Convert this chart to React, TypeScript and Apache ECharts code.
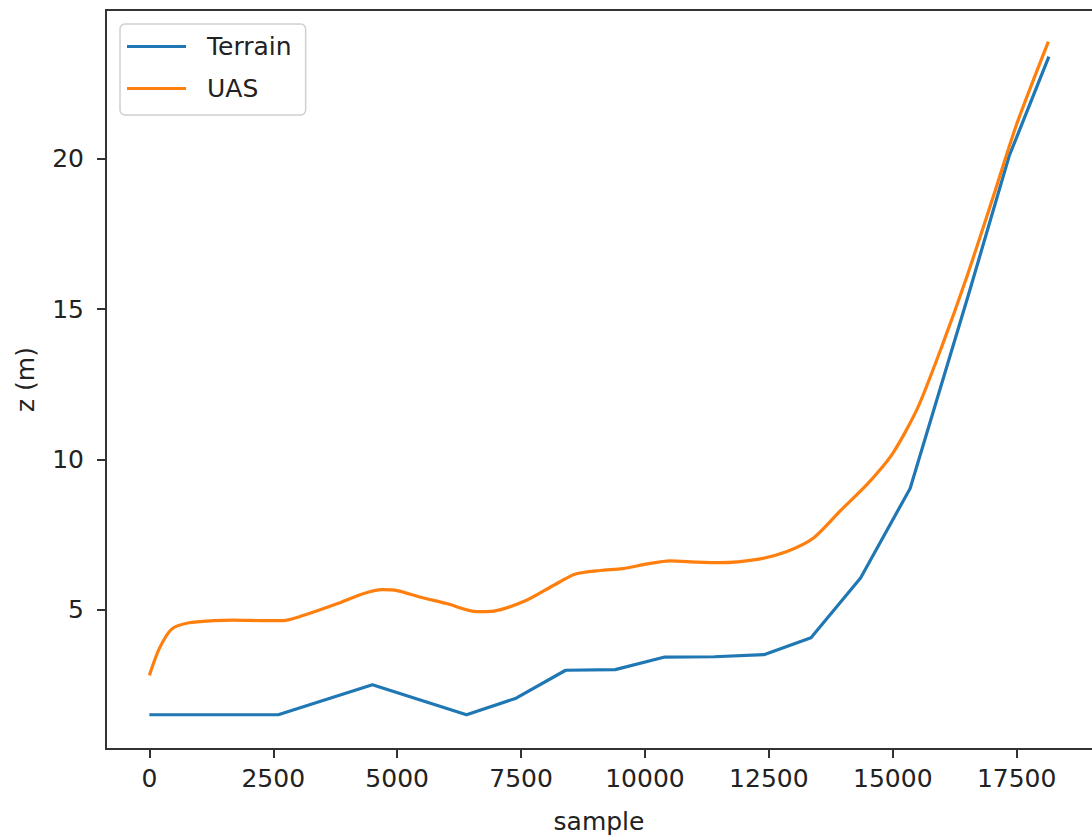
import React, { useEffect, useRef } from "react";
import * as echarts from "echarts";

const terrainX = [0, 600, 1600, 2600, 4500, 6400, 7400, 8400, 9400, 10400, 11400, 12400, 13350, 14350, 15350, 16550, 17350, 18150];
const terrainZ = [1.5, 1.5, 1.5, 1.5, 2.5, 1.5, 2.05, 2.98, 3.0, 3.42, 3.43, 3.5, 4.06, 6.05, 9.03, 15.6, 20.1, 23.4];

const uasX = [0, 200, 450, 800, 1300, 1700, 2300, 2700, 3100, 3800, 4300, 4700, 5000, 5450, 6000, 6600, 6950, 7600, 8150, 8600, 9100, 9550, 10050, 10500, 11050, 11500, 12300, 12850, 13400, 13950, 14500, 15000, 15500, 16000, 16500, 17000, 17500, 18140];
const uasZ = [2.81, 3.7, 4.35, 4.56, 4.63, 4.65, 4.63, 4.63, 4.8, 5.2, 5.52, 5.66, 5.63, 5.42, 5.2, 4.93, 4.95, 5.3, 5.8, 6.18, 6.3, 6.36, 6.52, 6.62, 6.58, 6.56, 6.68, 6.92, 7.38, 8.3, 9.2, 10.2, 11.7, 13.8, 16.1, 18.6, 21.15, 23.9];

const xTicks = [0, 2500, 5000, 7500, 10000, 12500, 15000, 17500];
const yTicks = [5, 10, 15, 20];

const FONT = "DejaVu Sans";
const TEXT = "#222";
const SPINE = "#333";
const X_MIN = -875;
const X_MAX = 19020;

export default function App() {
  const ref = useRef<HTMLDivElement>(null);
  useEffect(() => {
    if (!ref.current) return;
    const chart = echarts.init(ref.current, undefined, { renderer: "svg" });
    chart.setOption({
      animation: false,
      backgroundColor: "#fff",
      grid: {
        left: 106,
        top: 10,
        right: 0,
        bottom: 91,
        show: false,
      },
      legend: {
        orient: "vertical",
        left: 120,
        top: 24,
        padding: [10, 14, 14, 7],
        icon: "rect",
        itemWidth: 59,
        itemHeight: 3,
        itemGap: 17,
        backgroundColor: "#fff",
        borderColor: "#d0d0d0",
        borderWidth: 1.5,
        borderRadius: 5,
        textStyle: { fontFamily: FONT, fontSize: 25, lineHeight: 25, color: TEXT, padding: [0, 0, 0, 16] },
        data: ["Terrain", "UAS"],
      },
      xAxis: [
        {
          type: "value",
          min: X_MIN,
          max: X_MAX,
          name: "sample",
          nameLocation: "middle",
          nameGap: 60,
          nameTextStyle: { fontFamily: FONT, fontSize: 25, color: TEXT },
          axisLine: { show: true, onZero: false, lineStyle: { color: SPINE, width: 2 } },
          axisTick: { show: true, inside: false, length: 9, lineStyle: { color: SPINE, width: 2 }, customValues: xTicks },
          axisLabel: { fontFamily: FONT, fontSize: 25, color: TEXT, margin: 17, customValues: xTicks, formatter: (v: number) => String(v) },
          splitLine: { show: false },
        },
        {
          type: "value",
          position: "top",
          min: X_MIN,
          max: X_MAX,
          axisLine: { show: true, onZero: false, lineStyle: { color: SPINE, width: 2 } },
          axisTick: { show: false },
          axisLabel: { show: false },
          splitLine: { show: false },
        },
      ],
      yAxis: {
        type: "value",
        min: 0.36,
        max: 24.95,
        name: "z (m)",
        nameLocation: "middle",
        nameGap: 68,
        nameTextStyle: { fontFamily: FONT, fontSize: 25, color: TEXT },
        axisLine: { show: true, onZero: false, lineStyle: { color: SPINE, width: 2 } },
        axisTick: { show: true, inside: false, length: 9, lineStyle: { color: SPINE, width: 2 }, customValues: yTicks },
        axisLabel: { fontFamily: FONT, fontSize: 25, color: TEXT, margin: 22, customValues: yTicks, formatter: (v: number) => String(v) },
        splitLine: { show: false },
      },
      series: [
        {
          name: "Terrain",
          type: "line",
          xAxisIndex: 0,
          data: terrainX.map((x, i) => [x, terrainZ[i]]),
          symbol: "none",
          lineStyle: { color: "#1f77b4", width: 3.2 },
          itemStyle: { color: "#1f77b4" },
        },
        {
          name: "UAS",
          type: "line",
          xAxisIndex: 0,
          data: uasX.map((x, i) => [x, uasZ[i]]),
          symbol: "none",
          smooth: 0.25,
          lineStyle: { color: "#ff7f0e", width: 3.2 },
          itemStyle: { color: "#ff7f0e" },
        },
      ],
    });
    return () => chart.dispose();
  }, []);
  return <div ref={ref} style={{ position: "fixed", left: 0, top: 0, width: 1092, height: 840 }} />;
}
